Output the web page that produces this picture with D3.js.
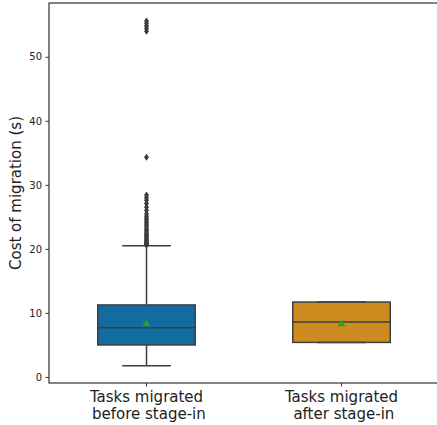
<!DOCTYPE html>
<html>
<head>
<meta charset="utf-8">
<script src="https://cdn.jsdelivr.net/npm/d3@7"></script>
<style>
  body { margin: 0; background: #fff; }
  svg { display: block; font-family: "DejaVu Sans", sans-serif; }
</style>
</head>
<body>
<svg id="chart" width="437" height="425"></svg>
<script>
// categories and box stats
var groups = ['before', 'after'];
var labelLines = [['Tasks migrated', ' before stage-in'], ['Tasks migrated', ' after stage-in']];
var boxColors = ['#136c9f', '#cc8a1f'];
var q1 = [5.0, 5.4];
var median = [7.7, 8.6];
var q3 = [11.25, 11.7];
var whiskLow = [1.75, 5.4];
var whiskHigh = [20.5, 11.7];
var means = [8.4, 8.4];
// outliers of the first group (none for the second)
var fliers = [20.6, 20.7, 20.8, 20.9, 21.0, 21.1, 21.3, 21.5, 21.7, 21.9, 22.1, 22.3, 22.5, 22.8,
  23.0, 23.3, 23.6, 23.9, 24.2, 24.5, 24.8, 25.1, 25.5, 26.0, 26.5, 27.1, 27.6, 28.0, 28.4,
  34.3, 54.0, 54.4, 54.8, 55.2, 55.6];
var yTicks = [0, 10, 20, 30, 40, 50];

function draw() {
  var svg = d3.select('#chart');
  var left = 49, right = 439, top = 3, bottom = 383;
  var lineCol = '#3f3f3f';

  var x = d3.scaleBand().domain(groups).range([left, right]).padding(0);
  var y = d3.scaleLinear().domain([-0.94, 58.4]).range([bottom, top]);
  var boxW = x.bandwidth() * 0.5;

  // axes
  var yAxis = svg.append('g')
    .attr('transform', 'translate(' + left + ',0)')
    .call(d3.axisLeft(y).tickValues(yTicks).tickSize(3.5).tickPadding(3.5));
  yAxis.select('.domain').remove();
  yAxis.selectAll('.tick line').attr('stroke', '#333');
  yAxis.selectAll('.tick text').attr('font-size', '10px').attr('fill', '#222')
    .attr('font-family', '"DejaVu Sans", sans-serif');

  var xAxis = svg.append('g')
    .attr('transform', 'translate(0,' + bottom + ')')
    .call(d3.axisBottom(x).tickSize(3.5).tickFormat(''));
  xAxis.select('.domain').remove();
  xAxis.selectAll('.tick line').attr('stroke', '#333');

  for (var i = 0; i < groups.length; i++) {
    var cx = x(groups[i]) + x.bandwidth() / 2;
    var lab = svg.append('text')
      .attr('text-anchor', 'middle')
      .attr('font-size', '15px')
      .attr('fill', '#222')
      .attr('xml:space', 'preserve');
    lab.append('tspan').attr('x', cx).attr('y', 402).text(labelLines[i][0]);
    lab.append('tspan').attr('x', cx).attr('y', 419).text(labelLines[i][1]);
  }

  svg.append('text')
    .attr('transform', 'translate(21,' + ((top + bottom) / 2) + ') rotate(-90)')
    .attr('text-anchor', 'middle')
    .attr('font-size', '15px')
    .attr('fill', '#222')
    .text('Cost of migration (s)');

  // boxes
  for (var i = 0; i < groups.length; i++) {
    var cx = x(groups[i]) + x.bandwidth() / 2;
    var g = svg.append('g');
    // whiskers
    g.append('line').attr('x1', cx).attr('x2', cx).attr('y1', y(q3[i])).attr('y2', y(whiskHigh[i]))
      .attr('stroke', lineCol).attr('stroke-width', 1.5);
    g.append('line').attr('x1', cx).attr('x2', cx).attr('y1', y(q1[i])).attr('y2', y(whiskLow[i]))
      .attr('stroke', lineCol).attr('stroke-width', 1.5);
    g.append('rect')
      .attr('x', cx - boxW / 2).attr('y', y(q3[i]))
      .attr('width', boxW).attr('height', y(q1[i]) - y(q3[i]))
      .attr('fill', boxColors[i]).attr('stroke', lineCol).attr('stroke-width', 1.5);
    [whiskLow[i], whiskHigh[i]].forEach(function (v) {
      g.append('line').attr('x1', cx - boxW / 4).attr('x2', cx + boxW / 4)
        .attr('y1', y(v)).attr('y2', y(v))
        .attr('stroke', lineCol).attr('stroke-width', 1.5);
    });
    g.append('line').attr('x1', cx - boxW / 2).attr('x2', cx + boxW / 2)
      .attr('y1', y(median[i])).attr('y2', y(median[i]))
      .attr('stroke', lineCol).attr('stroke-width', 1.5);
    // mean marker
    var my = y(means[i]);
    g.append('path')
      .attr('d', 'M' + cx + ',' + (my - 4) + 'L' + (cx + 4) + ',' + (my + 3) + 'L' + (cx - 4) + ',' + (my + 3) + 'Z')
      .attr('fill', '#2ca02c');
  }

  // fliers for the first group
  var fx = x(groups[0]) + x.bandwidth() / 2;
  svg.append('g').selectAll('path').data(fliers).enter().append('path')
    .attr('d', function (d) {
      var py = y(d);
      return 'M' + fx + ',' + (py - 3.5) + 'L' + (fx + 2.5) + ',' + py + 'L' + fx + ',' + (py + 3.5) + 'L' + (fx - 2.5) + ',' + py + 'Z';
    })
    .attr('fill', '#3d3d3d');

  // frame
  svg.append('rect')
    .attr('x', left).attr('y', top)
    .attr('width', right - left).attr('height', bottom - top)
    .attr('fill', 'none').attr('stroke', '#333').attr('stroke-width', 1.2);
}

window.onload = draw;
</script>
</body>
</html>
